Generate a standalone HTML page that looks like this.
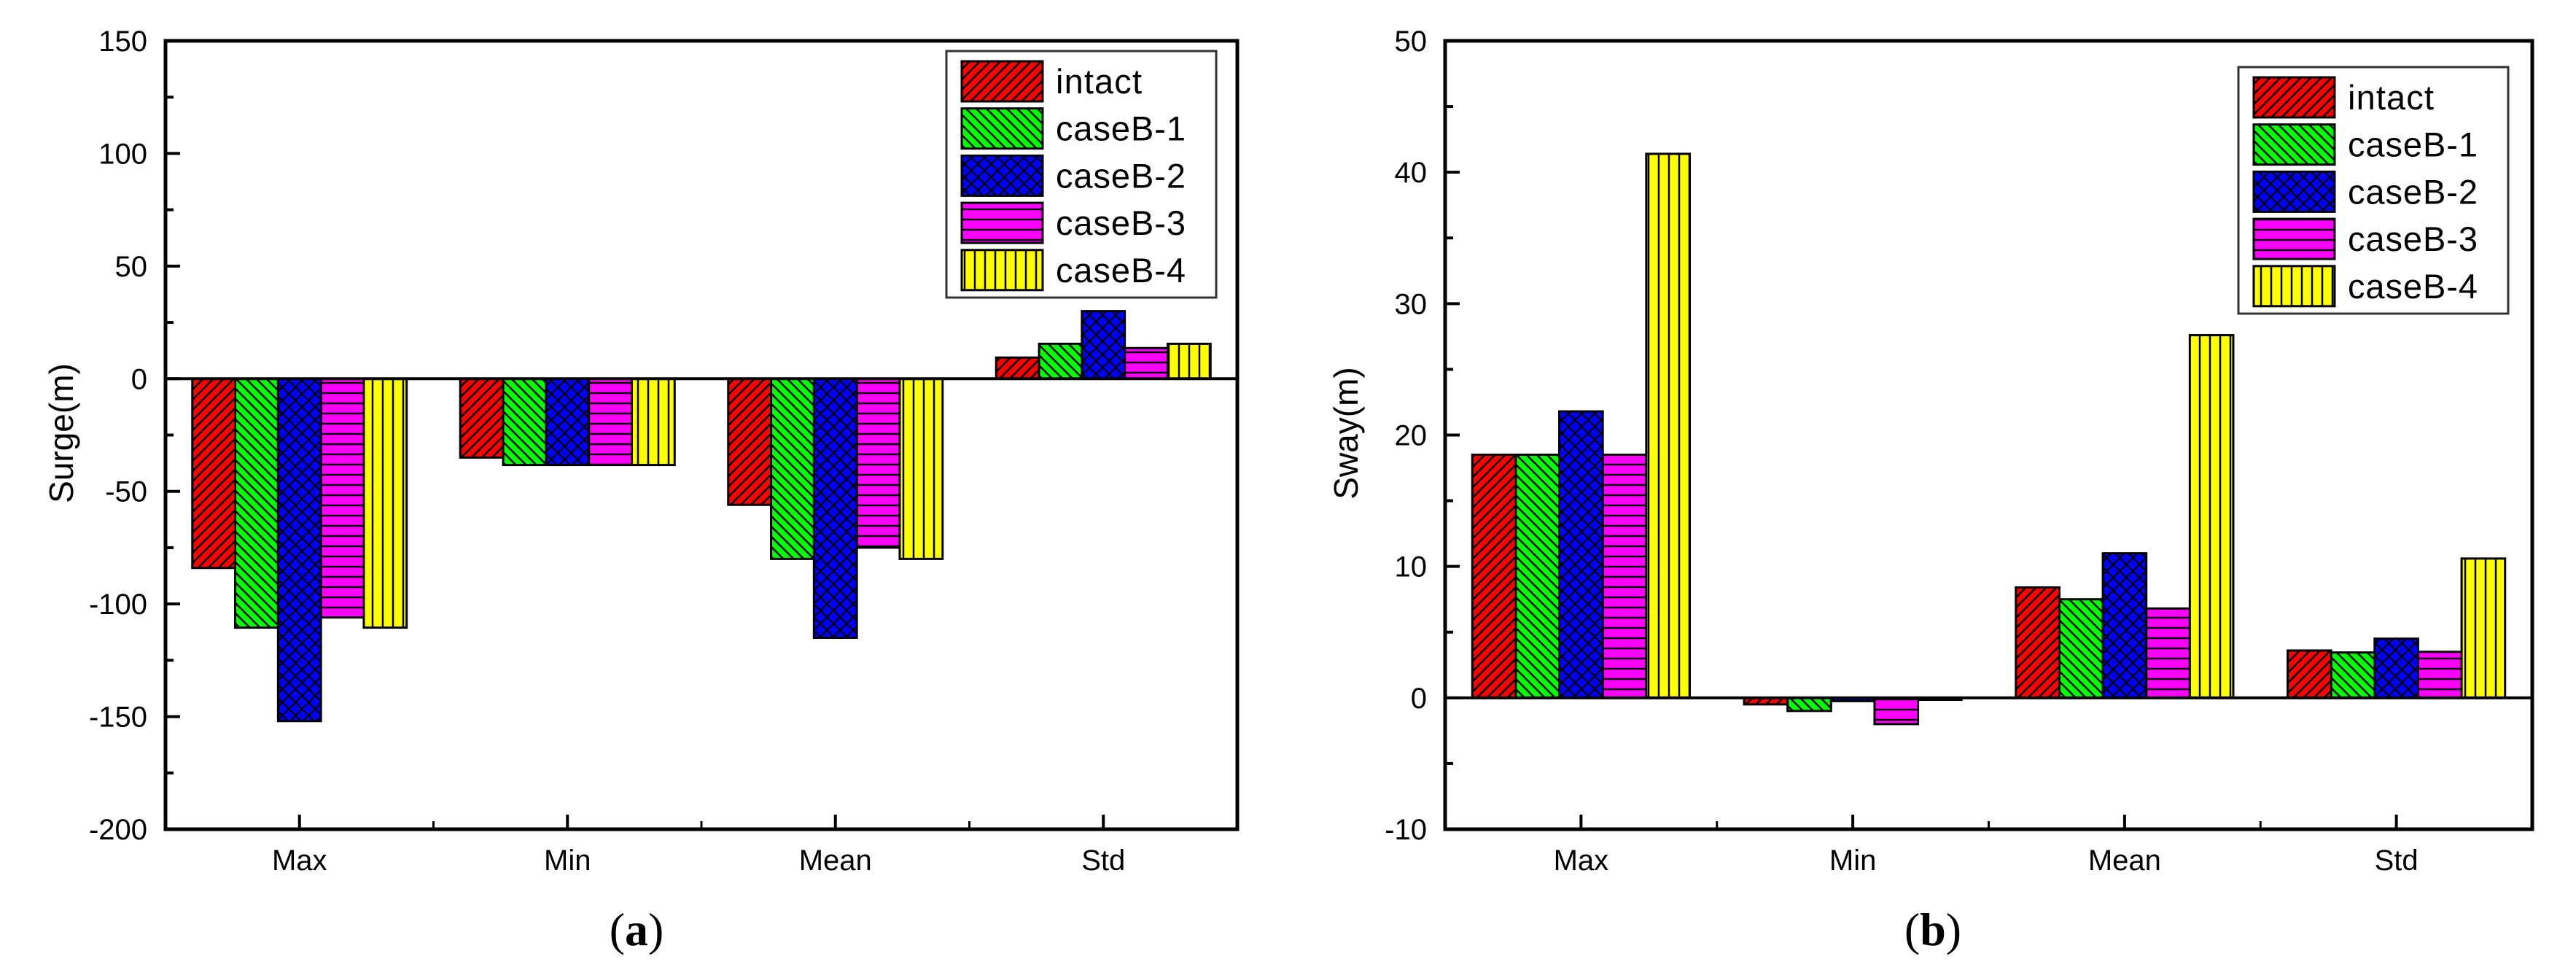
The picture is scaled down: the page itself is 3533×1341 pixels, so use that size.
<!DOCTYPE html>
<html><head><meta charset="utf-8"><style>
html,body{margin:0;padding:0;background:#fff;}
svg{display:block;}
text{font-family:"Liberation Sans",sans-serif;fill:#000;}
</style></head><body>
<svg id="fig" width="3533" height="1341" viewBox="0 0 3533 1341" xmlns="http://www.w3.org/2000/svg">
<defs>
<pattern id="p0" patternUnits="userSpaceOnUse" width="14" height="14"><rect width="14" height="14" fill="#ff0000"/><path d="M0,14 L14,0 M-4,4 L4,-4 M10,18 L18,10" stroke="#000" stroke-width="2.5"/></pattern>
<pattern id="p1" patternUnits="userSpaceOnUse" width="14" height="14"><rect width="14" height="14" fill="#00ff00"/><path d="M0,0 L14,14 M-4,10 L4,18 M10,-4 L18,4" stroke="#000" stroke-width="2.5"/></pattern>
<pattern id="p2" patternUnits="userSpaceOnUse" width="18" height="18"><rect width="18" height="18" fill="#0000ff"/><path d="M0,0 L18,18 M0,18 L18,0" stroke="#000" stroke-width="2.2"/></pattern>
<pattern id="p3" patternUnits="userSpaceOnUse" width="14" height="14"><rect width="14" height="14" fill="#ff00ff"/><path d="M0,7 L14,7" stroke="#000" stroke-width="2.5"/></pattern>
<pattern id="p4" patternUnits="userSpaceOnUse" width="14" height="14"><rect width="14" height="14" fill="#ffff00"/><path d="M7,0 L7,14" stroke="#000" stroke-width="2.5"/></pattern>
</defs>
<g id="chartA"></g>
<g id="chartB"></g>
<text x="873" y="1296" text-anchor="middle" style="font-family:'Liberation Serif',serif;font-size:64px">(<tspan font-weight="bold">a</tspan>)</text>
<text x="2651" y="1296" text-anchor="middle" style="font-family:'Liberation Serif',serif;font-size:64px">(<tspan font-weight="bold">b</tspan>)</text>
</svg>
<script>
const categories = ["Max","Min","Mean","Std"];
const seriesNames = ["intact","caseB-1","caseB-2","caseB-3","caseB-4"];
const surgeIntact = [-84,-35,-56,9.4];
const surgeB1 = [-110.5,-38.3,-80,15.5];
const surgeB2 = [-152,-38.3,-115,30];
const surgeB3 = [-106,-38.3,-75,13.6];
const surgeB4 = [-110.5,-38.3,-80,15.5];
const swayIntact = [18.5,-0.5,8.4,3.6];
const swayB1 = [18.5,-1.0,7.5,3.45];
const swayB2 = [21.8,-0.25,11.0,4.5];
const swayB3 = [18.5,-2.0,6.8,3.5];
const swayB4 = [41.4,-0.15,27.6,10.6];
const surgeTicks = [-200,-150,-100,-50,0,50,100,150];
const swayTicks = [-10,0,10,20,30,40,50];

const NS="http://www.w3.org/2000/svg";
function mk(parent,tag,attrs){const e=document.createElementNS(NS,tag);for(const k in attrs)e.setAttribute(k,attrs[k]);parent.appendChild(e);return e;}

function draw(g,cfg){
  const L=cfg.left,R=cfg.right,T=56,B=1137;
  const ymin=cfg.ticks[0],ymax=cfg.ticks[cfg.ticks.length-1];
  const y=v=>B-(v-ymin)/(ymax-ymin)*(B-T);
  const cw=(R-L)/categories.length;
  const bw=cw*0.8/seriesNames.length;
  const x=(ci,si)=>L+cw*ci+cw*0.1+si*bw;
  cfg.series.forEach((vals,si)=>{
    vals.forEach((v,ci)=>{
      const r=mk(g,'rect',{x:x(ci,si),y:Math.min(y(v),y(0)),width:bw,height:Math.abs(y(v)-y(0)),fill:'url(#p'+si+')',stroke:'#000','stroke-width':3});
      
      
    });
  });
  // zero line
  const z=mk(g,'line',{x1:L,x2:R,y1:y(0),y2:y(0),stroke:'#000','stroke-width':4});
  
  
  // frame
  const f=mk(g,'rect',{x:L,y:T,width:R-L,height:B-T,fill:'none',stroke:'#000','stroke-width':5});
  
  
  // y ticks
  cfg.ticks.forEach((t,i)=>{
    mk(g,'line',{x1:L,x2:L+20,y1:y(t),y2:y(t),stroke:'#000','stroke-width':4});
    if(i<cfg.ticks.length-1){const m=(t+cfg.ticks[i+1])/2;mk(g,'line',{x1:L,x2:L+11,y1:y(m),y2:y(m),stroke:'#000','stroke-width':4});}
    const tx=mk(g,'text',{x:L-25,y:y(t)+14,'text-anchor':'end','font-size':40});
    tx.textContent=t;
    
    
  });
  // x ticks
  categories.forEach((c,ci)=>{
    const cx=L+cw*(ci+0.5);
    mk(g,'line',{x1:cx,x2:cx,y1:B,y2:B-20,stroke:'#000','stroke-width':4});
    if(ci>0)mk(g,'line',{x1:L+cw*ci,x2:L+cw*ci,y1:B,y2:B-11,stroke:'#000','stroke-width':3});
    const tx=mk(g,'text',{x:cx,y:1193,'text-anchor':'middle','font-size':40});
    tx.textContent=c;
    
    
  });
  const yt=mk(g,'text',{x:0,y:0,'text-anchor':'middle','font-size':46,transform:'translate('+cfg.titleX+',594) rotate(-90)'});
  yt.textContent=cfg.title;
  
  
  // legend
  const lg=mk(g,'g',{});
  
  
  mk(lg,'rect',{x:cfg.legX,y:cfg.legY,width:370,height:338,fill:'#fff',stroke:'#333','stroke-width':3});
  seriesNames.forEach((n,si)=>{
    const ent=mk(lg,'g',{});
    
    
    const ry=cfg.legY+14+si*64.7;
    mk(ent,'rect',{x:cfg.legX+21,y:ry,width:111,height:55,fill:'url(#p'+si+')',stroke:'#000','stroke-width':3});
    const t=mk(ent,'text',{x:cfg.legX+150,y:ry+44,'font-size':47,textLength:n.length>6?178:118});
    t.textContent=n;
  });
}
draw(document.getElementById('chartA'),{left:227,right:1697,ticks:surgeTicks,series:[surgeIntact,surgeB1,surgeB2,surgeB3,surgeB4],title:'Surge(m)',titleX:100,legX:1298,legY:70});
draw(document.getElementById('chartB'),{left:1982,right:3473,ticks:swayTicks,series:[swayIntact,swayB1,swayB2,swayB3,swayB4],title:'Sway(m)',titleX:1862,legX:3070,legY:92});
</script>
</body></html>
